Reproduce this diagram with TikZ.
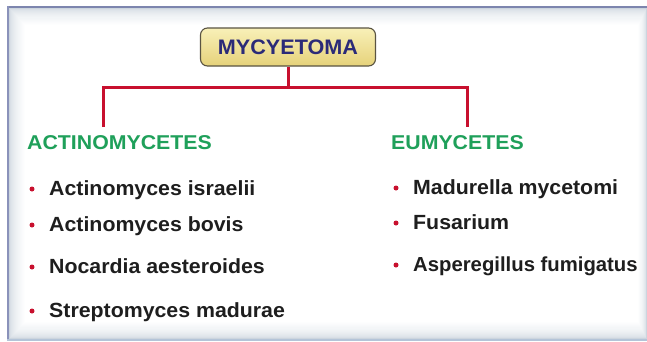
\documentclass[tikz,border=0pt]{standalone}
\usepackage{fontspec}
\setmainfont{Liberation Sans}
\newfontfamily\itemfont[FakeStretch=1.04]{Liberation Sans}
\newfontfamily\itemfontn[FakeStretch=1.0]{Liberation Sans}
\newfontfamily\headfont[FakeStretch=1.065]{Liberation Sans}
\newfontfamily\titlefont[FakeStretch=1.03]{Liberation Sans}
\definecolor{redline}{HTML}{C8102E}
\definecolor{greenhd}{HTML}{1FA05A}
\definecolor{navy}{HTML}{2B2A78}
\definecolor{itemtxt}{HTML}{1E1E1E}
\definecolor{framebase}{HTML}{CCD5DE}
\definecolor{topedge}{HTML}{7D85AE}
\definecolor{leftedge}{HTML}{8A92BA}
\definecolor{botedge}{HTML}{B4C4D8}
\definecolor{boxtop}{HTML}{F8F0B8}
\definecolor{boxbot}{HTML}{E6D27A}
\definecolor{boxedge}{HTML}{5A5442}
\tikzset{
  conn/.style={draw=redline, line width=3pt, line join=miter},
  titlebox/.style={draw=boxedge, line width=1.1pt, rounded corners=7pt,
    top color=boxtop, bottom color=boxbot, minimum width=175pt, minimum height=38pt,
    inner sep=0pt, text=navy, font=\titlefont\fontsize{21}{24}\selectfont\bfseries},
  header/.style={anchor=base west, inner sep=0pt, text=greenhd,
    font=\headfont\fontsize{20}{24}\selectfont\bfseries},
  item/.style={anchor=base west, inner sep=0pt, text=itemtxt,
    font=\itemfont\fontsize{20.5}{24}\selectfont\bfseries},
  itemnarrow/.style={item, font=\itemfontn\fontsize{20.3}{24}\selectfont\bfseries},
  bul/.style={circle, fill=redline, inner sep=0pt, minimum size=5pt}
}
\begin{document}
\begin{tikzpicture}[x=1pt,y=-1pt]
\useasboundingbox (0,0) rectangle (647,341);
\fill[white] (0,0) rectangle (647,341);
% frame with soft inner fade
\fill[framebase] (7,6) rectangle (647,341);
\foreach \i in {0,...,16}{
  \pgfmathsetmacro{\pc}{100*sqrt(\i/16)}
  \fill[white!\pc!framebase] (9+\i*1.0,8+\i*1.05) rectangle (647-\i*0.55,339-\i*1.05);
}
\draw[topedge, line width=2pt] (7,6.5) -- (647,6.5);
\draw[leftedge, line width=2pt] (7.5,6) -- (7.5,341);
\draw[botedge, line width=1.5pt] (7,340) -- (647,340);
% title
\node[titlebox] (t) at (288,47) {MYCYETOMA};
% connectors
\coordinate (j) at (288,87);
\coordinate (la) at (103,127);
\coordinate (ra) at (467,127);
\draw[conn] (t.south) -- (j);
\draw[conn] (la) |- (j) -| (ra);
% headers
\node[header] (a) at (27,149) {ACTINOMYCETES};
\node[header] (e) at (391,149) {EUMYCETES};
% left items
\node[bul] (b1) at (32,189) {};
\node[item] (i1) at (49,195.5) {Actinomyces israelii};
\node[bul] (b2) at (32,225) {};
\node[item] (i2) at (49,231.5) {Actinomyces bovis};
\node[bul] (b3) at (32,267) {};
\node[item] (i3) at (49,273.5) {Nocardia aesteroides};
\node[bul] (b4) at (32,311) {};
\node[item] (i4) at (49,317.5) {Streptomyces madurae};
% right items
\node[bul] (c1) at (396,188) {};
\node[item] (r1) at (413,194.5) {Madurella mycetomi};
\node[bul] (c2) at (396,223) {};
\node[item] (r2) at (413,229.5) {Fusarium};
\node[bul] (c3) at (396,265) {};
\node[itemnarrow] (r3) at (413,271.5) {Asperegillus fumigatus};
\end{tikzpicture}
\end{document}
